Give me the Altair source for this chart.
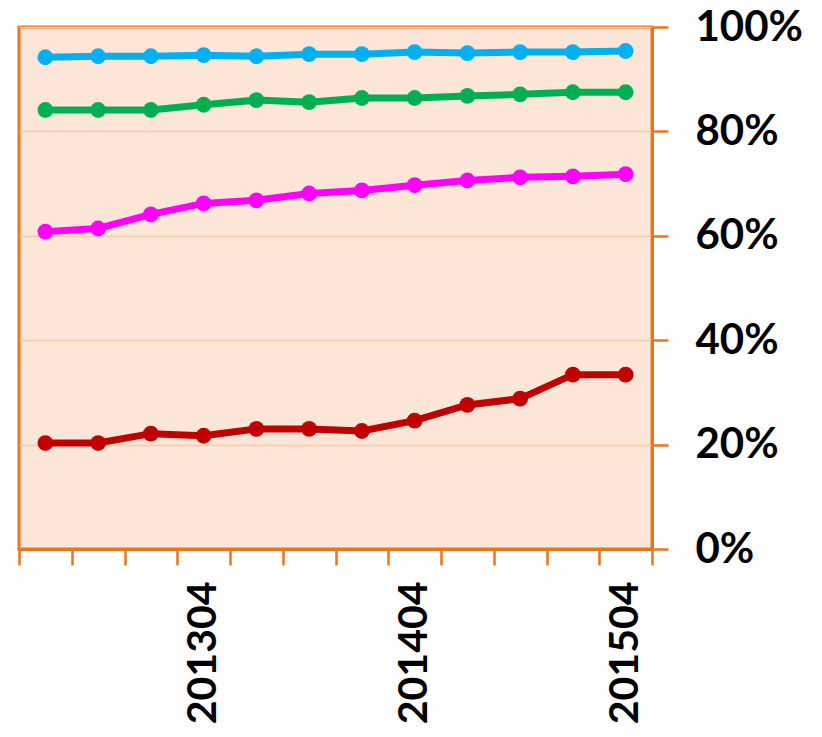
import altair as alt
import pandas as pd

quarters = ["201207", "201210", "201301", "201304", "201307", "201310",
            "201401", "201404", "201407", "201410", "201501", "201504"]
blue = [94.2, 94.4, 94.4, 94.6, 94.4, 94.8, 94.8, 95.2, 95.0, 95.2, 95.2, 95.4]
green = [84.1, 84.1, 84.1, 85.1, 86.0, 85.6, 86.4, 86.4, 86.8, 87.1, 87.5, 87.5]
magenta = [60.8, 61.4, 64.1, 66.2, 66.8, 68.1, 68.7, 69.7, 70.6, 71.2, 71.4, 71.8]
darkred = [20.3, 20.3, 22.1, 21.7, 23.0, 23.0, 22.6, 24.6, 27.6, 28.8, 33.4, 33.4]

series_names = ["blue", "green", "magenta", "darkred"]
series_colors = ["#00B0F0", "#00B050", "#FF00FF", "#C00000"]

rows = []
for name, vals in zip(series_names, [blue, green, magenta, darkred]):
    for q, v in zip(quarters, vals):
        rows.append({"quarter": q, "value": v, "series": name})
df = pd.DataFrame(rows)

orange = "#E8761E"

x = alt.X("quarter:O", sort=quarters,
          scale=alt.Scale(type="band", paddingInner=0, paddingOuter=0),
          axis=alt.Axis(title=None, tickBand="extent", labelAngle=-90,
                        labelExpr="substring(datum.label, 4, 6) == '04' ? datum.label : ''",
                        labelFont="Lato", labelFontSize=41, labelFontWeight="bold",
                        labelColor="black", labelPadding=16, labelAlign="right",
                        labelBaseline="middle",
                        tickColor=orange, tickWidth=2.5, tickSize=16,
                        domainColor=orange, domainWidth=3, grid=False))
y = alt.Y("value:Q", scale=alt.Scale(domain=[0, 100], nice=False),
          axis=alt.Axis(title=None, orient="right", values=[0, 20, 40, 60, 80, 100],
                        labelExpr="datum.value + '%'",
                        labelFont="Lato", labelFontSize=42, labelFontWeight="bold",
                        labelColor="black", labelPadding=27,
                        tickColor=orange, tickWidth=2.5, tickSize=16,
                        domainColor=orange, domainWidth=3,
                        grid=True, gridColor="#F8CBAD", gridWidth=1.5))
color = alt.Color("series:N", scale=alt.Scale(domain=series_names, range=series_colors),
                  legend=None)

base = alt.Chart(df).encode(x=x, y=y, color=color, detail="series:N")
lines = base.mark_line(strokeWidth=7)
points = base.mark_circle(size=250, opacity=1)

chart = (lines + points).properties(
    width=633, height=522,
    padding={"left": 11, "top": 19, "right": 160, "bottom": 186},
    autosize=alt.AutoSizeParams(type="none"),
    background="white",
).configure_view(fill="#FCE6D8", stroke=orange, strokeWidth=3)

chart.save("out.html", embed_options={"renderer": "svg", "actions": False})
